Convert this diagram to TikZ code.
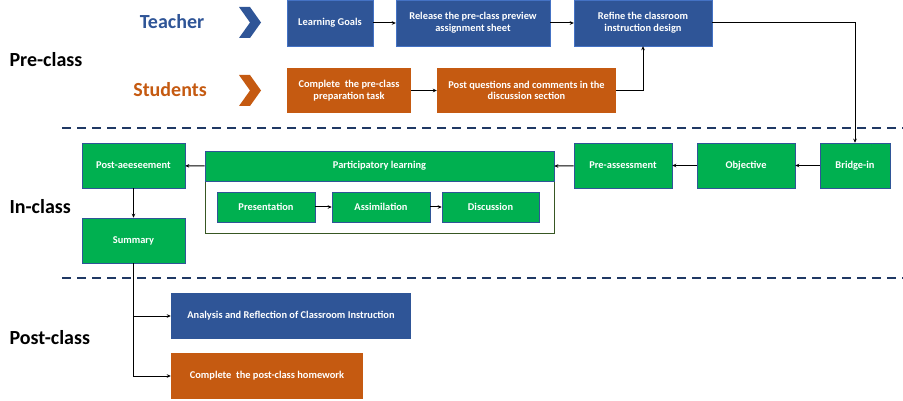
\documentclass[tikz,border=0pt]{standalone}
\usepackage{fontspec}
\setmainfont{Carlito}
\usetikzlibrary{arrows.meta,positioning}
\definecolor{FlowBlue}{HTML}{2F5597}
\definecolor{FlowOrange}{HTML}{C55A11}
\definecolor{FlowGreen}{HTML}{00B050}
\definecolor{FlowEdge}{HTML}{4472C4}
\definecolor{FlowFrame}{HTML}{385723}
\definecolor{FlowRule}{HTML}{1F3864}
\tikzset{
  every node/.style={font=\bfseries},
  box/.style={text=white, align=center, inner sep=2pt, font=\bfseries\fontsize{10.4}{11.6}\selectfont},
  bluebox/.style={box, fill=FlowBlue, draw=FlowEdge, line width=0.4pt},
  orangebox/.style={box, fill=FlowOrange},
  greenbox/.style={box, fill=FlowGreen, draw=FlowBlue, line width=0.6pt},
  phase/.style={font=\bfseries\fontsize{20}{22}\selectfont, text=black},
  role/.style={font=\bfseries\fontsize{20}{22}\selectfont},
  link/.style={-{Stealth[length=4pt,width=3.6pt]}, draw=black, line width=1pt},
  divider/.style={draw=FlowRule, line width=1.2pt, dash pattern=on 9pt off 6pt},
}
\begin{document}
\begin{tikzpicture}[x=1pt, y=-1pt]
  \useasboundingbox (0,0) rectangle (903,401);
  % Phase labels
  \node[phase, anchor=west] (preclass) at (6,60) {Pre-class};
  \node[phase, anchor=west] (inclass) at (6,207) {In-class};
  \node[phase, anchor=west] (postclass) at (6,338) {Post-class};
  % Roles with chevrons
  \node[role, text=FlowBlue] (teacher) at (172,22) {Teacher};
  \node[role, text=FlowOrange] (students) at (170,90) {Students};
  \fill[FlowBlue] (239,7) -- (250,7) -- (261,22.5) -- (250,38) -- (239,38) -- (250,22.5) -- cycle;
  \fill[FlowOrange] (239,75) -- (250,75) -- (261,90.5) -- (250,106) -- (239,106) -- (250,90.5) -- cycle;
  % Pre-class boxes
  \node[bluebox, minimum width=86, minimum height=46] (goals) at (330,23) {Learning Goals};
  \node[bluebox, minimum width=154, minimum height=46] (release) at (473,23)
    {Release the pre-class preview\\ assignment sheet};
  \node[bluebox, minimum width=138, minimum height=46] (refine) at (643,23)
    {Refine the classroom\\ instruction design};
  \node[orangebox, minimum width=124, minimum height=45] (prepare) at (349,90.5)
    {Complete~ the pre-class\\ preparation task};
  \node[orangebox, minimum width=179, minimum height=45] (postq) at (526.5,90.5)
    {Post questions and comments in the\\ discussion section};
  % Dividers
  \draw[divider] (62,128) -- (903,128);
  \draw[divider] (62,278) -- (903,278);
  % In-class boxes
  \node[greenbox, minimum width=70, minimum height=45] (bridge) at (855,165.5) {Bridge-in};
  \node[greenbox, minimum width=98, minimum height=45] (objective) at (746,165.5) {Objective};
  \node[greenbox, minimum width=98, minimum height=45] (preassess) at (623,165.5) {Pre-assessment};
  \node[draw=FlowFrame, line width=0.8pt, minimum width=349, minimum height=82] (frame) at (379.5,192) {};
  \node[greenbox, minimum width=349, minimum height=30] (participate) at (379.5,166) {Participatory learning};
  \node[greenbox, minimum width=98, minimum height=30] (present) at (266,207) {Presentation};
  \node[greenbox, minimum width=98, minimum height=30] (assimilate) at (381,207) {Assimilation};
  \node[greenbox, minimum width=97, minimum height=30] (discuss) at (490.5,207) {Discussion};
  \node[greenbox, minimum width=103, minimum height=45] (postassess) at (133.5,165.5) {Post-aeeseement};
  \node[greenbox, minimum width=103, minimum height=45] (summary) at (133.5,240.5) {Summary};
  % Post-class boxes
  \node[bluebox, draw=none, minimum width=240, minimum height=46] (analysis) at (291,316)
    {Analysis and Reflection of Classroom Instruction};
  \node[orangebox, minimum width=192, minimum height=46] (homework) at (267,376)
    {Complete~ the post-class homework};
  % Connectors
  \draw[link] (goals) -- (release);
  \draw[link] (release) -- (refine);
  \draw[link] (prepare) -- (postq);
  \draw[link] (postq.east) -| (refine.south);
  \draw[link] (refine.east) -| (bridge.north);
  \draw[link] (bridge) -- (objective);
  \draw[link] (objective) -- (preassess);
  \draw[link] (preassess) -- (participate.east);
  \draw[link] (participate.west) -- (postassess);
  \draw[link] (present) -- (assimilate);
  \draw[link] (assimilate) -- (discuss);
  \draw[link] (postassess) -- (summary);
  \draw[link] (summary.south) |- (analysis.west);
  \draw[link] (summary.south) |- (homework.west);
\end{tikzpicture}
\end{document}
